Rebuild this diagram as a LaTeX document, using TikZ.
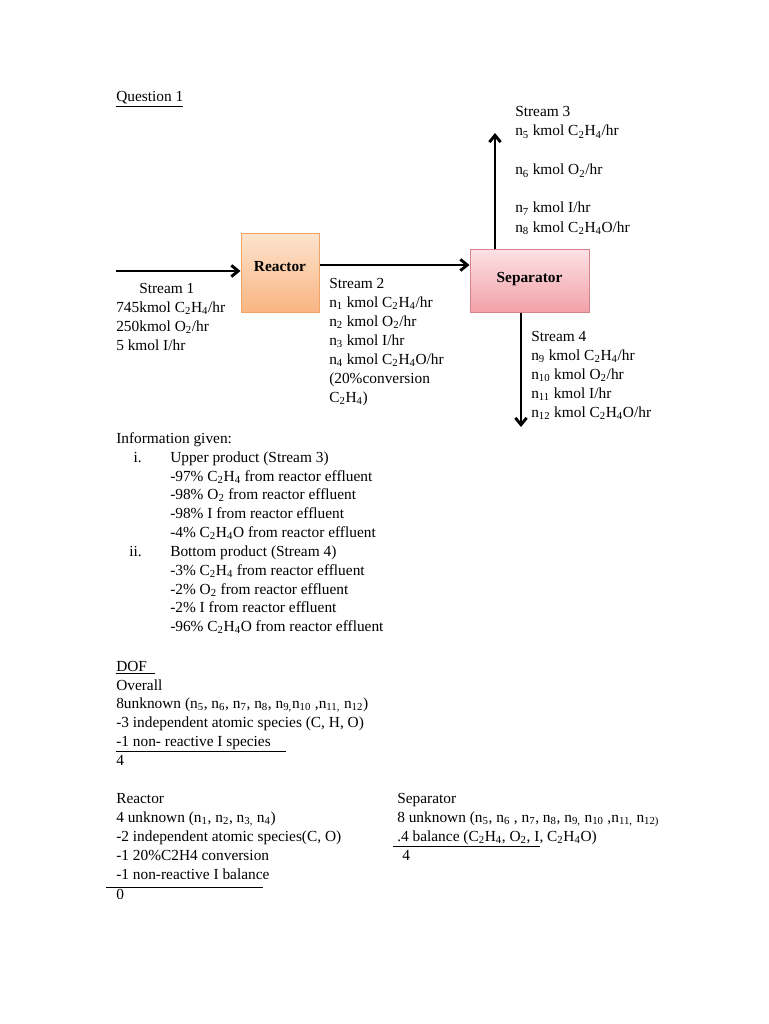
\documentclass[tikz,border=0pt]{standalone}
\usepackage{fontspec}
\setmainfont{Liberation Serif}
\usepackage{xcolor}
\usetikzlibrary{arrows.meta}
\definecolor{reactortop}{HTML}{FDE4CE}
\definecolor{reactorbot}{HTML}{F9B582}
\definecolor{reactorline}{HTML}{F0A468}
\definecolor{septop}{HTML}{FCE2E5}
\definecolor{sepbot}{HTML}{F2A0A8}
\definecolor{sepline}{HTML}{D5848C}
\tikzset{
  txt/.style={anchor=base west,inner sep=0pt,font=\fontsize{12.3pt}{14pt}\selectfont},
  num/.style={txt,anchor=base east},
  flow/.style={line width=2.3pt,-{Straight Barb[length=5.5pt,width=9pt]}},
  unitbox/.style={draw,line width=0.8pt,font=\fontsize{12.3pt}{14pt}\selectfont\bfseries,inner sep=0pt},
}
\begin{document}
\begin{tikzpicture}[x=0.8pt,y=-0.8pt]
	\useasboundingbox (0,0) rectangle (768,1024) ;
	\node[txt] (question) at (116,102) {\underline{Question 1}} ;
	% units
	\node[unitbox,draw=reactorline,top color=reactortop,bottom color=reactorbot,minimum width=62.4pt,minimum height=63.2pt,text height=8pt,text depth=10pt] (reactor) at (280,272.5) {Reactor} ;
	\node[unitbox,draw=sepline,top color=septop,bottom color=sepbot,minimum width=95.2pt,minimum height=50.4pt,text height=6pt] (separator) at (529.5,280.5) {Separator} ;
	% streams
	\coordinate (s1in) at (116,271) ;
	\coordinate (s2) at (400,265) ;
	\coordinate (s3top) at (495,133) ;
	\coordinate (s4bot) at (521,427) ;
	\draw[flow] (s1in) -- (s1in -| reactor.west) ;
	\draw[flow] (reactor.east |- s2) -- (s2 -| separator.west) ;
	\draw[flow] (s3top |- separator.north) -- (s3top) ;
	\draw[flow] (s4bot |- separator.south) -- (s4bot) ;
	% stream 1
	\node[txt] (sone) at (139,293) {Stream 1} ;
	\node[txt] (sonea) at (116,312) {745kmol C\textsubscript{2}H\textsubscript{4}/hr} ;
	\node[txt] (soneb) at (116,331) {250kmol O\textsubscript{2}/hr} ;
	\node[txt] (sonec) at (116,350) {5 kmol I/hr} ;
	% stream 2
	\node[txt] (stwo) at (329,288) {Stream 2} ;
	\node[txt] (stwoa) at (329,307) {n\textsubscript{1} kmol C\textsubscript{2}H\textsubscript{4}/hr} ;
	\node[txt] (stwob) at (329,326) {n\textsubscript{2} kmol O\textsubscript{2}/hr} ;
	\node[txt] (stwoc) at (329,345) {n\textsubscript{3} kmol I/hr} ;
	\node[txt] (stwod) at (329,364) {n\textsubscript{4} kmol C\textsubscript{2}H\textsubscript{4}O/hr} ;
	\node[txt] (stwoe) at (329,383) {(20\%conversion} ;
	\node[txt] (stwof) at (329,402) {C\textsubscript{2}H\textsubscript{4})} ;
	% stream 3
	\node[txt] (sthree) at (515,117) {Stream 3} ;
	\node[txt] (sthreea) at (515,136) {n\textsubscript{5} kmol C\textsubscript{2}H\textsubscript{4}/hr} ;
	\node[txt] (sthreeb) at (515,175) {n\textsubscript{6} kmol O\textsubscript{2}/hr} ;
	\node[txt] (sthreec) at (515,213) {n\textsubscript{7} kmol I/hr} ;
	\node[txt] (sthreed) at (515,232) {n\textsubscript{8} kmol C\textsubscript{2}H\textsubscript{4}O/hr} ;
	% stream 4
	\node[txt] (sfour) at (531,341) {Stream 4} ;
	\node[txt] (sfoura) at (531,360) {n\textsubscript{9} kmol C\textsubscript{2}H\textsubscript{4}/hr} ;
	\node[txt] (sfourb) at (531,379) {n\textsubscript{10} kmol O\textsubscript{2}/hr} ;
	\node[txt] (sfourc) at (531,398) {n\textsubscript{11} kmol I/hr} ;
	\node[txt] (sfourd) at (531,417) {n\textsubscript{12} kmol C\textsubscript{2}H\textsubscript{4}O/hr} ;
	% information given
	\node[txt] (info) at (116,443) {Information given:} ;
	\node[num] (infoi) at (142,462) {i.} ;
	\node[txt] (upper) at (170,462) {Upper product (Stream 3)} ;
	\node[txt] (uppera) at (170,481) {-97\% C\textsubscript{2}H\textsubscript{4} from reactor effluent} ;
	\node[txt] (upperb) at (170,499) {-98\% O\textsubscript{2} from reactor effluent} ;
	\node[txt] (upperc) at (170,518) {-98\% I from reactor effluent} ;
	\node[txt] (upperd) at (170,537) {-4\% C\textsubscript{2}H\textsubscript{4}O from reactor effluent} ;
	\node[num] (infoii) at (142,556) {ii.} ;
	\node[txt] (bottom) at (170,556) {Bottom product (Stream 4)} ;
	\node[txt] (bottoma) at (170,575) {-3\% C\textsubscript{2}H\textsubscript{4} from reactor effluent} ;
	\node[txt] (bottomb) at (170,594) {-2\% O\textsubscript{2} from reactor effluent} ;
	\node[txt] (bottomc) at (170,612) {-2\% I from reactor effluent} ;
	\node[txt] (bottomd) at (170,631) {-96\% C\textsubscript{2}H\textsubscript{4}O from reactor effluent} ;
	% DOF
	\node[txt] (dof) at (116,671) {\underline{DOF\hspace{6pt}}} ;
	\node[txt] (overall) at (116,690) {Overall} ;
	\node[txt] (overalla) at (116,708) {8unknown (n\textsubscript{5}, n\textsubscript{6}, n\textsubscript{7}, n\textsubscript{8}, n\textsubscript{9,}n\textsubscript{10} ,n\textsubscript{11,} n\textsubscript{12})} ;
	\node[txt] (overallb) at (116,727) {-3 independent atomic species (C, H, O)} ;
	\node[txt] (overallc) at (116,746) {\underline{-1 non- reactive I species\hspace{12pt}}} ;
	\node[txt] (overalld) at (116,765) {4} ;
	% reactor DOF
	\node[txt] (rdof) at (116,803) {Reactor} ;
	\node[txt] (rdofa) at (116,822) {4 unknown (n\textsubscript{1}, n\textsubscript{2}, n\textsubscript{3,} n\textsubscript{4})} ;
	\node[txt] (rdofb) at (116,841) {-2 independent atomic species(C, O)} ;
	\node[txt] (rdofc) at (116,860) {-1 20\%C2H4 conversion} ;
	\node[txt] (rdofd) at (116,879) {-1 non-reactive I balance} ;
	\draw[line width=0.8pt] (106,887) -- (263,887) ;
	\node[txt] (rdofe) at (116,899) {0} ;
	% separator DOF
	\node[txt] (sdof) at (397,803) {Separator} ;
	\node[txt] (sdofa) at (397,822) {8 unknown (n\textsubscript{5}, n\textsubscript{6} , n\textsubscript{7}, n\textsubscript{8}, n\textsubscript{9,} n\textsubscript{10} ,n\textsubscript{11,} n\textsubscript{12)}} ;
	\node[txt] (sdofb) at (397,841) {.4 balance (C\textsubscript{2}H\textsubscript{4}, O\textsubscript{2}, I, C\textsubscript{2}H\textsubscript{4}O)} ;
	\draw[line width=0.8pt] (393,846) -- (540,846) ;
	\node[txt] (sdofc) at (402,860) {4} ;
\end{tikzpicture}
\end{document}
